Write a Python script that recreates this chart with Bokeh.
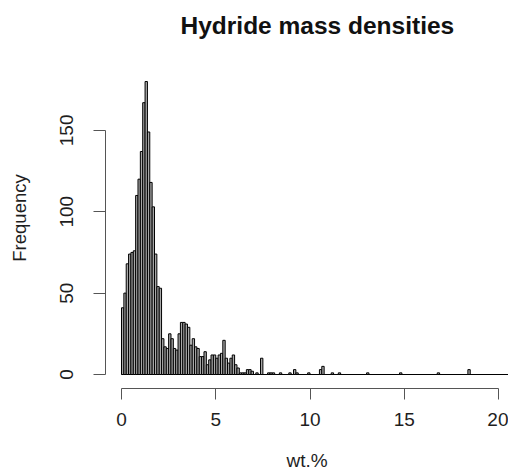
from bokeh.plotting import figure
from bokeh.models import FixedTicker, Range1d, ColumnDataSource
from bokeh.embed import file_html
from bokeh.resources import INLINE

# ---- data ----
bin_width = 0.125
bin_start = 0.0
counts = [
    41, 50, 68, 74, 75, 76, 110, 120, 137, 167,      # 0.000 - 1.250
    180, 149, 118, 103, 74, 54, 53, 22, 17, 16,      # 1.250 - 2.500
    25, 22, 16, 15, 25, 32, 32, 31, 29, 18,          # 2.500 - 3.750
    22, 17, 16, 11, 11, 14, 6, 9, 12, 12,            # 3.750 - 5.000
    10, 12, 13, 21, 10, 7, 10, 12, 6, 4,             # 5.000 - 6.250
    1, 1, 1, 3, 3, 2, 0, 1, 0, 10,                   # 6.250 - 7.500
    0, 0, 1, 1, 1, 0, 0, 1, 0, 0,                    # 7.500 - 8.750
    0, 1, 0, 3, 1, 0, 0, 0, 0, 1,                    # 8.750 - 10.000
    0, 0, 0, 0, 3, 5, 0, 0, 0, 1,                    # 10.000 - 11.250
    0, 0, 1, 0, 0, 0, 0, 0, 0, 0,                    # 11.250 - 12.500
    0, 0, 0, 0, 1, 0, 0, 0, 0, 0,                    # 12.500 - 13.750
    0, 0, 0, 0, 0, 0, 0, 0, 1, 0,                    # 13.750 - 15.000
    0, 0, 0, 0, 0, 0, 0, 0, 0, 0,                    # 15.000 - 16.250
    0, 0, 0, 0, 1, 0, 0, 0, 0, 0,                    # 16.250 - 17.500
    0, 0, 0, 0, 0, 0, 0, 3, 0, 0,                    # 17.500 - 18.750
    0, 0, 0, 0, 0, 0, 0, 0, 0, 0,                    # 18.750 - 20.000
    0, 0, 0, 0, 0, 0, 0, 0,                          # 20.000 - 21.000
]
x_ticks = [0, 5, 10, 15, 20]
y_ticks = [0, 50, 100, 150]
title_text = "Hydride mass densities"
x_label = "wt.%"
y_label = "Frequency"

lefts = [bin_start + i * bin_width for i in range(len(counts))]
rights = [l + bin_width for l in lefts]
src = ColumnDataSource(dict(left=lefts, right=rights, top=counts,
                            bottom=[0] * len(counts)))

FONT = "Liberation Sans"
TXT = "#1e1e1e"
AX = "#555555"

p = figure(width=508, height=473, output_backend="svg", toolbar_location=None,
           x_range=Range1d(-0.849, 20.53), y_range=Range1d(-8.6, 200.9),
           min_border_left=105, min_border_right=0, min_border_top=46,
           min_border_bottom=85)
p.title.text = title_text
p.title.align = "left"
p.title.text_font = FONT
p.title.text_font_size = "24.5px"
p.title.text_font_style = "bold"
p.title.text_color = "#111111"
p.title.offset = 75
p.title.standoff = 18

p.grid.visible = False
p.outline_line_color = None
p.background_fill_color = "white"
p.border_fill_color = "white"

# baseline of the zero-count bins
p.line(x=[lefts[0], rights[-1]], y=[0, 0], line_color="black", line_width=1)
p.quad(left="left", right="right", top="top", bottom="bottom", source=src,
       fill_color="#a8a8a8", line_color="black", line_width=1)

xa = p.xaxis[0]
xa.ticker = FixedTicker(ticks=x_ticks)
xa.bounds = (x_ticks[0], x_ticks[-1])
xa.axis_label = x_label
xa.axis_line_color = AX
xa.major_tick_line_color = AX
xa.major_tick_out = 11
xa.major_tick_in = 0
xa.minor_tick_line_color = None
xa.major_label_text_font = FONT
xa.major_label_text_font_size = "19px"
xa.major_label_text_color = TXT
xa.major_label_standoff = 13
xa.axis_label_text_font = FONT
xa.axis_label_text_font_size = "19px"
xa.axis_label_text_font_style = "normal"
xa.axis_label_text_color = TXT
xa.axis_label_standoff = 21

ya = p.yaxis[0]
ya.ticker = FixedTicker(ticks=y_ticks)
ya.bounds = (y_ticks[0], y_ticks[-1])
ya.axis_label = y_label
ya.axis_line_color = AX
ya.major_tick_line_color = AX
ya.major_tick_out = 12
ya.major_tick_in = 0
ya.minor_tick_line_color = None
ya.major_label_orientation = "vertical"
ya.major_label_text_font = FONT
ya.major_label_text_font_size = "19px"
ya.major_label_text_color = TXT
ya.major_label_standoff = 20
ya.axis_label_text_font = FONT
ya.axis_label_text_font_size = "18.5px"
ya.axis_label_text_font_style = "normal"
ya.axis_label_text_color = TXT
ya.axis_label_standoff = 28

open("out.html", "w").write(file_html(p, INLINE))
